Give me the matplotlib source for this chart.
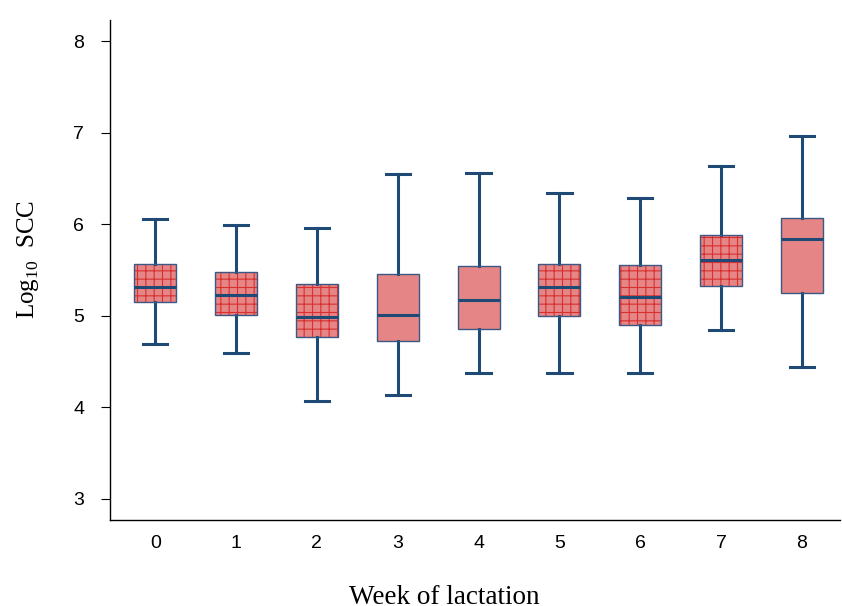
import matplotlib
matplotlib.use('Agg')
import matplotlib.pyplot as plt
from matplotlib.patches import PathPatch

plt.rcParams['hatch.linewidth'] = 0.8

weeks = [0, 1, 2, 3, 4, 5, 6, 7, 8]
whislo = [4.69, 4.59, 4.07, 4.14, 4.38, 4.38, 4.38, 4.84, 4.44]
q1 = [5.15, 5.01, 4.77, 4.72, 4.86, 5.00, 4.90, 5.33, 5.25]
med = [5.31, 5.23, 4.99, 5.01, 5.17, 5.31, 5.21, 5.61, 5.84]
q3 = [5.57, 5.48, 5.35, 5.46, 5.54, 5.57, 5.55, 5.88, 6.07]
whishi = [6.06, 5.99, 5.96, 6.55, 6.56, 6.34, 6.29, 6.64, 6.96]
# boxes that show the red grid pattern
gridded = [True, True, True, False, False, True, True, True, False]

stats = []
for i in range(len(weeks)):
    stats.append({'label': str(weeks[i]), 'whislo': whislo[i], 'q1': q1[i], 'med': med[i],
                  'q3': q3[i], 'whishi': whishi[i], 'fliers': []})

blue = '#1f4a75'

fig = plt.figure(figsize=(8.42, 6.06), dpi=100)
ax = fig.add_axes([0.1306, 0.1419, 0.867, 0.825])

bp = ax.bxp(stats, positions=weeks, widths=0.52, patch_artist=True, showfliers=False,
            boxprops=dict(facecolor='#e58585', edgecolor='#d83030', linewidth=0),
            whiskerprops=dict(color=blue, linewidth=2.2),
            capprops=dict(color=blue, linewidth=2.2),
            medianprops=dict(color=blue, linewidth=2.2, zorder=4),
            capwidths=0.3)
for box, g in zip(bp['boxes'], gridded):
    if g:
        box.set_hatch('++')
    # outline drawn separately so the hatch can stay red
    ax.add_patch(PathPatch(box.get_path(), facecolor='none', edgecolor='#3a5a85',
                           linewidth=1.0, zorder=3))

ax.set_xlim(-0.56, 8.47)
ax.set_ylim(2.77, 8.23)
ax.set_yticks([3, 4, 5, 6, 7, 8])
ax.spines['top'].set_visible(False)
ax.spines['right'].set_visible(False)
ax.spines['left'].set_linewidth(1.0)
ax.spines['bottom'].set_linewidth(1.0)
ax.tick_params(axis='y', length=6.5, width=0.8, pad=12, labelsize=14)
ax.tick_params(axis='x', length=0, pad=11, labelsize=14)
for label in ax.get_xticklabels() + ax.get_yticklabels():
    label.set_fontfamily('Liberation Sans')

ax.set_xlabel('Week of lactation', fontfamily='Liberation Serif', fontsize=19.5)
ax.set_ylabel(r'Log$_{\mathregular{10}}$  SCC', fontfamily='Liberation Serif', fontsize=18)
ax.xaxis.set_label_coords(0.4575, -0.129)
ax.yaxis.set_label_coords(-0.0945, 0.522)

plt.savefig('out.png', dpi=100)
